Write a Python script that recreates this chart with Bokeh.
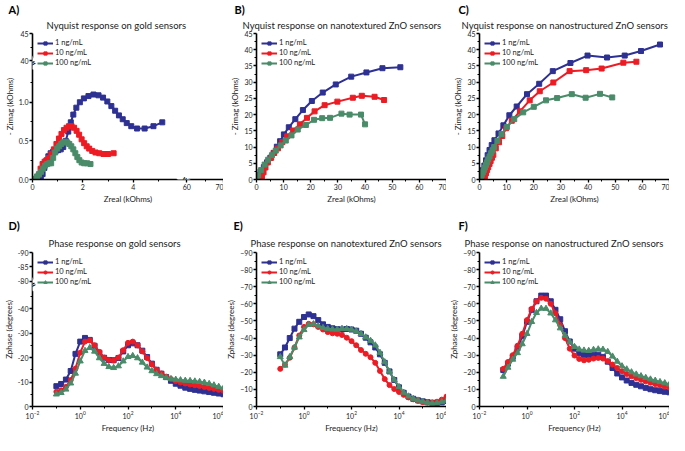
from bokeh.plotting import figure
from bokeh.layouts import gridplot
from bokeh.models import Range1d, FixedTicker, Label, Legend, LegendItem, Title
from bokeh.embed import file_html
from bokeh.resources import INLINE

FONT = "Lato"
COLORS = ["#2e3192", "#ec1c24", "#4a8b69"]
SERIES = ["1 ng/mL", "10 ng/mL", "100 ng/mL"]

# ---------------- Panel A: Nyquist, gold (kOhms) ----------------
A1_X = [0.25, 0.33, 0.40, 0.47, 0.55, 0.63, 0.72, 0.82, 0.92, 1.02, 1.12, 1.22, 1.32, 1.42, 1.52, 1.62, 1.74,
        1.88, 2.04, 2.22, 2.42, 2.62, 2.80, 2.97, 3.13, 3.28, 3.43, 3.58, 3.74, 3.92, 4.15, 4.45, 4.80, 5.15]
A1_Y = [0.00, 0.02, 0.07, 0.15, 0.24, 0.30, 0.34, 0.36, 0.37, 0.38, 0.39, 0.42, 0.50, 0.62, 0.74, 0.84, 0.93,
        1.00, 1.05, 1.08, 1.10, 1.09, 1.06, 1.01, 0.95, 0.89, 0.83, 0.78, 0.73, 0.69, 0.66, 0.66, 0.69, 0.74]
A2_X = [0.18, 0.25, 0.32, 0.40, 0.48, 0.56, 0.65, 0.75, 0.85, 0.95, 1.05, 1.15, 1.25, 1.35, 1.45, 1.55, 1.65,
        1.75, 1.85, 1.95, 2.05, 2.15, 2.25, 2.37, 2.50, 2.65, 2.82, 3.00, 3.22]
A2_Y = [0.00, 0.06, 0.14, 0.20, 0.23, 0.25, 0.28, 0.33, 0.39, 0.46, 0.53, 0.59, 0.64, 0.67, 0.69, 0.69, 0.67,
        0.63, 0.58, 0.52, 0.47, 0.43, 0.40, 0.37, 0.35, 0.34, 0.33, 0.33, 0.34]
A3_X = [0.10, 0.18, 0.26, 0.34, 0.42, 0.50, 0.58, 0.66, 0.74, 0.82, 0.90, 0.98, 1.06, 1.14, 1.22, 1.30, 1.38,
        1.46, 1.54, 1.62, 1.70, 1.78, 1.86, 1.95, 2.05, 2.17, 2.30]
A3_Y = [0.01, 0.04, 0.07, 0.10, 0.14, 0.18, 0.20, 0.21, 0.21, 0.28, 0.35, 0.40, 0.43, 0.46, 0.48, 0.49, 0.48,
        0.46, 0.43, 0.39, 0.34, 0.29, 0.25, 0.22, 0.21, 0.21, 0.20]

# ---------------- Panel B: Nyquist, nanotextured ZnO ----------------
B1_X = [0.2, 0.7, 1.5, 2.7, 3.9, 5.1, 6.3, 7.5, 8.7, 10.1, 11.9, 14.3, 17.1, 20.4, 24.4, 29.2, 34.9, 40.5, 46.4, 53.0]
B1_Y = [0.3, 1.2, 2.4, 3.8, 5.3, 6.7, 8.2, 10.1, 11.8, 13.9, 16.1, 18.6, 21.4, 24.2, 26.8, 29.3, 31.7, 33.0, 34.3, 34.6]
B2_X = [1.5, 2.0, 2.6, 3.3, 4.2, 5.4, 6.5, 7.9, 9.5, 11.3, 13.5, 16.0, 18.6, 21.4, 25.1, 29.8, 35.5, 38.8, 43.5, 47.0]
B2_Y = [0.2, 1.0, 2.2, 3.7, 5.3, 6.7, 8.2, 9.6, 11.5, 13.3, 15.1, 17.0, 19.0, 21.0, 22.9, 24.0, 25.2, 25.8, 25.5, 24.5]
B3_X = [0.1, 0.6, 1.7, 3.0, 4.3, 5.7, 7.1, 8.9, 10.8, 12.9, 15.2, 18.2, 21.2, 24.2, 27.1, 31.3, 34.3, 38.5, 40.0]
B3_Y = [0.3, 1.25, 2.9, 4.6, 6.1, 7.5, 8.9, 10.5, 12.0, 13.6, 15.4, 16.8, 18.4, 18.9, 19.0, 20.3, 20.0, 20.0, 17.0]

# ---------------- Panel C: Nyquist, nanostructured ZnO ----------------
C1_X = [0.3, 0.8, 1.3, 1.8, 2.4, 3.0, 3.7, 4.5, 5.5, 7.0, 8.8, 11.0, 13.7, 17.5, 22.0, 27.0, 33.5, 39.8, 47.0,
        53.5, 59.5, 66.5]
C1_Y = [0.3, 1.6, 2.9, 4.3, 5.9, 7.5, 9.1, 10.6, 12.1, 14.2, 16.7, 19.8, 22.5, 26.3, 29.5, 33.4, 35.9, 38.2, 37.6,
        38.2, 39.6, 41.6]
C2_X = [1.6, 2.0, 2.4, 2.8, 3.2, 3.7, 4.1, 4.6, 5.1, 6.0, 7.2, 8.4, 9.8, 11.9, 14.9, 18.5, 22.2, 27.2, 33.2,
        39.3, 45.0, 53.0, 57.8]
C2_Y = [0.3, 1.0, 1.9, 2.9, 3.8, 4.8, 5.7, 6.7, 7.6, 9.6, 11.5, 13.4, 15.8, 18.1, 21.0, 24.4, 27.2, 29.9, 33.4,
        33.7, 34.2, 36.0, 36.3]
C3_X = [0.2, 0.5, 0.8, 1.2, 1.6, 2.0, 2.4, 2.8, 3.2, 3.7, 4.2, 4.8, 5.4, 6.6, 8.1, 10.1, 12.8, 16.1, 20.0, 24.5,
        28.6, 34.0, 39.1, 44.4, 48.9]
C3_Y = [0.3, 0.9, 1.4, 2.2, 2.9, 3.7, 4.5, 5.3, 6.2, 7.1, 8.1, 9.0, 10.0, 11.9, 14.0, 16.2, 18.6, 20.7, 22.4, 24.4,
        25.1, 26.3, 25.2, 26.4, 25.3]

# ---------------- Phase panels (Hz, degrees) ----------------
FREQ = [0.1, 0.158, 0.251, 0.398, 0.631, 1.0, 1.58, 2.51, 3.98, 6.31, 10.0, 15.8, 25.1, 39.8, 63.1,
        100.0, 158.0, 251.0, 398.0, 631.0, 1000.0, 1580.0, 2510.0, 3980.0, 6310.0,
        10000.0, 15800.0, 25100.0, 39800.0, 63100.0, 100000.0, 158000.0, 251000.0, 398000.0, 631000.0, 1000000.0]

D1 = [-8.3, -9.2, -11.0, -14.5, -21.5, -26.5, -28.0, -27.2, -24.8, -22.0, -19.9, -19.0, -18.9, -19.8, -22.5,
      -25.0, -25.8, -25.0, -22.8, -20.2, -17.5, -15.0, -13.4, -12.0, -10.5, -9.3, -8.5, -7.7, -7.2, -6.8,
      -6.5, -6.2, -5.9, -5.6, -5.3, -5.0]
D2 = [-6.0, -6.6, -8.0, -10.8, -15.5, -22.0, -26.5, -27.0, -25.0, -22.3, -20.0, -19.0, -18.8, -20.0, -23.0,
      -26.0, -26.5, -25.0, -22.5, -19.8, -17.2, -15.0, -13.5, -12.2, -11.2, -10.4, -9.8, -9.4, -9.0, -8.7,
      -8.4, -8.0, -7.6, -7.2, -6.8, -6.4]
D3 = [-5.0, -5.6, -7.0, -9.5, -13.5, -18.5, -22.8, -24.0, -22.5, -19.8, -17.5, -16.2, -15.8, -16.5, -18.5,
      -20.3, -20.7, -19.8, -18.0, -16.0, -14.5, -13.3, -12.5, -11.8, -11.3, -11.0, -10.8, -10.6, -10.5, -10.3,
      -10.1, -9.8, -9.3, -8.7, -8.1, -7.5]

E1 = [-30.5, -34.5, -40.0, -45.5, -49.5, -52.3, -53.8, -52.8, -50.5, -48.0, -46.5, -45.7, -45.2, -45.0, -45.3,
      -45.0, -44.3, -42.5, -40.2, -37.5, -34.5, -30.5, -25.5, -20.5, -15.5, -11.2, -8.0, -5.8, -4.5, -3.6,
      -3.0, -2.5, -2.2, -2.1, -2.4, -3.2]
E2 = [-22.0, -24.5, -28.5, -34.5, -41.5, -46.5, -48.3, -48.0, -46.5, -45.0, -43.5, -42.8, -42.5, -41.8, -40.2,
      -38.2, -35.8, -33.0, -30.8, -28.8, -25.5, -20.8, -16.0, -12.5, -10.2, -8.5, -6.8, -5.3, -4.2, -3.3,
      -2.6, -2.3, -2.3, -2.8, -4.0, -5.8]
E3 = [-29.0, -24.0, -29.0, -34.5, -40.5, -44.8, -47.8, -48.2, -47.0, -46.0, -45.4, -45.1, -45.0, -45.5, -45.4,
      -45.0, -44.0, -42.5, -40.5, -38.5, -35.8, -31.5, -26.0, -20.5, -15.5, -11.5, -8.2, -6.0, -4.6, -3.6,
      -2.9, -2.3, -1.9, -2.0, -2.6, -3.5]

F1 = [-21.3, -25.0, -29.0, -34.0, -41.0, -49.5, -56.5, -61.5, -64.8, -64.8, -61.5, -56.5, -51.0, -44.0, -38.0,
      -33.8, -31.2, -30.2, -30.0, -30.3, -30.3, -29.0, -26.2, -22.5, -19.3, -17.0, -15.2, -13.8, -12.7, -11.8,
      -10.9, -10.1, -9.5, -9.0, -8.6, -8.3]
F2 = [-22.0, -26.0, -30.0, -35.5, -42.5, -50.5, -57.0, -61.5, -63.5, -63.0, -60.0, -54.5, -47.5, -40.0, -33.8,
      -29.8, -27.8, -27.0, -27.3, -28.0, -28.4, -28.0, -26.5, -24.5, -22.5, -20.6, -19.0, -17.7, -16.6, -15.6,
      -14.7, -13.9, -13.1, -12.4, -11.7, -11.0]
F3 = [-17.5, -22.8, -27.5, -31.3, -36.5, -42.5, -49.5, -54.8, -57.3, -57.2, -54.5, -50.5, -45.8, -41.5, -37.8,
      -34.9, -33.4, -32.8, -32.6, -33.2, -33.5, -33.3, -32.0, -29.3, -26.3, -23.6, -21.8, -20.1, -18.8, -17.8,
      -16.8, -15.9, -15.2, -14.4, -13.7, -13.0]

# broken-axis tick positions (position on the scale -> value shown)
A_XTICKS = {0: "0", 2: "2", 4: "4", 6.12: "60", 7.58: "70"}
A_YTICKS = {0: "0.0", 0.5: "0.5", 1.0: "1.0", 1.54: "40", 1.89: "45"}
D_YTICKS = {0: "0", -10: "-10", -20: "-20", -30: "-30", -40: "-40", -51.1: "-80", -57.0: "-85", -62.9: "-90"}

# ---------------- layout constants ----------------
W = 223
BL, BR = 24, 0
TOP_H, TOP_T, TOP_B = 206, 30, 18
BOT_H, BOT_T, BOT_B = 229, 46, 18


def style_axes(p):
    for ax in p.axis:
        ax.axis_line_width = 1.6
        ax.axis_line_color = "black"
        ax.major_tick_line_width = 1.3
        ax.major_tick_line_color = "black"
        ax.minor_tick_line_color = "black"
        ax.minor_tick_line_width = 1
        ax.major_tick_out = 3
        ax.major_tick_in = 0
        ax.minor_tick_out = 2
        ax.minor_tick_in = 0
        ax.major_label_text_font = FONT
        ax.major_label_text_font_size = "7px"
        ax.major_label_text_color = "#222222"
        ax.major_label_standoff = 1
        ax.axis_label_text_font = FONT
        ax.axis_label_text_font_size = "8px"
        ax.axis_label_text_font_style = "normal"
        ax.axis_label_text_color = "#222222"
        ax.axis_label_standoff = 1


def base_fig(h, top, bottom, x_range, y_range, x_type="linear"):
    p = figure(width=W, height=h, x_range=x_range, y_range=y_range, x_axis_type=x_type,
               output_backend="svg", toolbar_location=None,
               min_border_left=BL, min_border_right=BR, min_border_top=top, min_border_bottom=bottom)
    p.xgrid.visible = False
    p.ygrid.visible = False
    p.outline_line_color = None
    p.background_fill_color = "white"
    p.border_fill_color = "white"
    style_axes(p)
    return p


def add_texts(p, letter, title, title_standoff, title_dx, letter_dx):
    p.add_layout(Title(text=title, align="left", offset=title_dx, standoff=title_standoff,
                       text_font=FONT, text_font_size="9.5px", text_font_style="normal",
                       text_color="#222222"), "above")
    p.add_layout(Title(text=letter, align="left", offset=letter_dx, standoff=0,
                       text_font=FONT, text_font_size="11px", text_font_style="bold",
                       text_color="black"), "above")


def add_series(p, xs, ys, markers, sizes):
    items = []
    for i in range(3):
        lr = p.line(xs[i], ys[i], line_color=COLORS[i], line_width=2)
        sr = p.scatter(xs[i], ys[i], marker=markers[i], size=sizes[i], fill_color=COLORS[i], line_color=COLORS[i])
        items.append(LegendItem(label=SERIES[i], renderers=[lr, sr]))
    lg = Legend(items=items, location="top_left", margin=3, padding=2, spacing=1,
                glyph_width=16, glyph_height=8, label_height=8, label_standoff=2,
                label_text_font=FONT, label_text_font_size="7.5px", label_text_color="#222222",
                border_line_alpha=0, background_fill_alpha=0)
    p.add_layout(lg)


def break_mark(p, x, y, angle):
    p.add_layout(Label(x=x, y=y, text="=", angle=angle, text_font=FONT, text_font_size="11px",
                       text_font_style="bold", text_align="center", text_baseline="middle",
                       background_fill_color="white", text_color="black"))


SQ = ["square", "square", "square"]
PH = ["square", "circle", "triangle"]
SQS = [5, 5, 5]
PHS = [5, 5, 6]

# ---- A ----
pA = base_fig(TOP_H, TOP_T, TOP_B, Range1d(0, 7.58), Range1d(0, 1.89))
pA.xaxis.ticker = FixedTicker(ticks=list(A_XTICKS.keys()), minor_ticks=[1, 3, 5, 6.85])
pA.xaxis.major_label_overrides = A_XTICKS
pA.yaxis.ticker = FixedTicker(ticks=list(A_YTICKS.keys()), minor_ticks=[0.25, 0.75, 1.25, 1.715])
pA.yaxis.major_label_overrides = A_YTICKS
pA.xaxis.axis_label = "Zreal (kOhms)"
pA.yaxis.axis_label = "- Zimag (kOhms)"
add_series(pA, [A1_X, A2_X, A3_X], [A1_Y, A2_Y, A3_Y], SQ, SQS)
add_texts(pA, "A)", "Nyquist response on gold sensors", 5, 14, -24)
break_mark(pA, 6.0, 0, 1.05)
break_mark(pA, 0, 1.51, 0.5)


def nyq_fig():
    p = base_fig(TOP_H, TOP_T, TOP_B, Range1d(0, 70), Range1d(0, 45))
    p.xaxis.ticker = FixedTicker(ticks=list(range(0, 71, 10)), minor_ticks=list(range(5, 70, 10)))
    p.yaxis.ticker = FixedTicker(ticks=list(range(0, 46, 5)), minor_ticks=[v + 2.5 for v in range(0, 45, 5)])
    p.xaxis.axis_label = "Zreal (kOhms)"
    p.yaxis.axis_label = "- Zimag (kOhms)"
    return p

# ---- B ----
pB = nyq_fig()
add_series(pB, [B1_X, B2_X, B3_X], [B1_Y, B2_Y, B3_Y], SQ, SQS)
add_texts(pB, "B)", "Nyquist response on nanotextured ZnO sensors", 5, -14, -22)

# ---- C ----
pC = nyq_fig()
add_series(pC, [C1_X, C2_X, C3_X], [C1_Y, C2_Y, C3_Y], SQ, SQS)
add_texts(pC, "C)", "Nyquist response on nanostructured ZnO sensors", 5, -18, -21)

# ---- phase ----
LOG_MAJ = [1e-2, 1.0, 1e2, 1e4, 1e6]
LOG_MIN = [1e-1, 1e1, 1e3, 1e5]


def phase_fig(y_range):
    p = base_fig(BOT_H, BOT_T, BOT_B, Range1d(1e-2, 1e6), y_range, x_type="log")
    p.xaxis.ticker = FixedTicker(ticks=LOG_MAJ, minor_ticks=LOG_MIN)
    p.xaxis.axis_label = "Frequency (Hz)"
    p.yaxis.axis_label = "Zphase (degrees)"
    return p

pD = phase_fig(Range1d(0, -62.9))
pD.yaxis.ticker = FixedTicker(ticks=list(D_YTICKS.keys()), minor_ticks=[-5, -15, -25, -35, -45])
pD.yaxis.major_label_overrides = D_YTICKS
add_series(pD, [FREQ, FREQ, FREQ], [D1, D2, D3], PH, PHS)
add_texts(pD, "D)", "Phase response on gold sensors", 8, 16, -24)
break_mark(pD, 1e-2, -49.9, 0.5)

pE = phase_fig(Range1d(0, -90))
pE.yaxis.ticker = FixedTicker(ticks=list(range(0, -91, -10)), minor_ticks=list(range(-5, -90, -10)))
add_series(pE, [FREQ, FREQ, FREQ], [E1, E2, E3], PH, PHS)
add_texts(pE, "E)", "Phase response on nanotextured ZnO sensors", 8, -6, -23)

pF = phase_fig(Range1d(0, -90))
pF.yaxis.ticker = FixedTicker(ticks=list(range(0, -91, -10)), minor_ticks=list(range(-5, -90, -10)))
add_series(pF, [FREQ, FREQ, FREQ], [F1, F2, F3], PH, PHS)
add_texts(pF, "F)", "Phase response on nanostructured ZnO sensors", 8, -15, -21)

grid = gridplot([[pA, pB, pC], [pD, pE, pF]], toolbar_location=None)

open("out.html", "w").write(file_html(grid, INLINE))
